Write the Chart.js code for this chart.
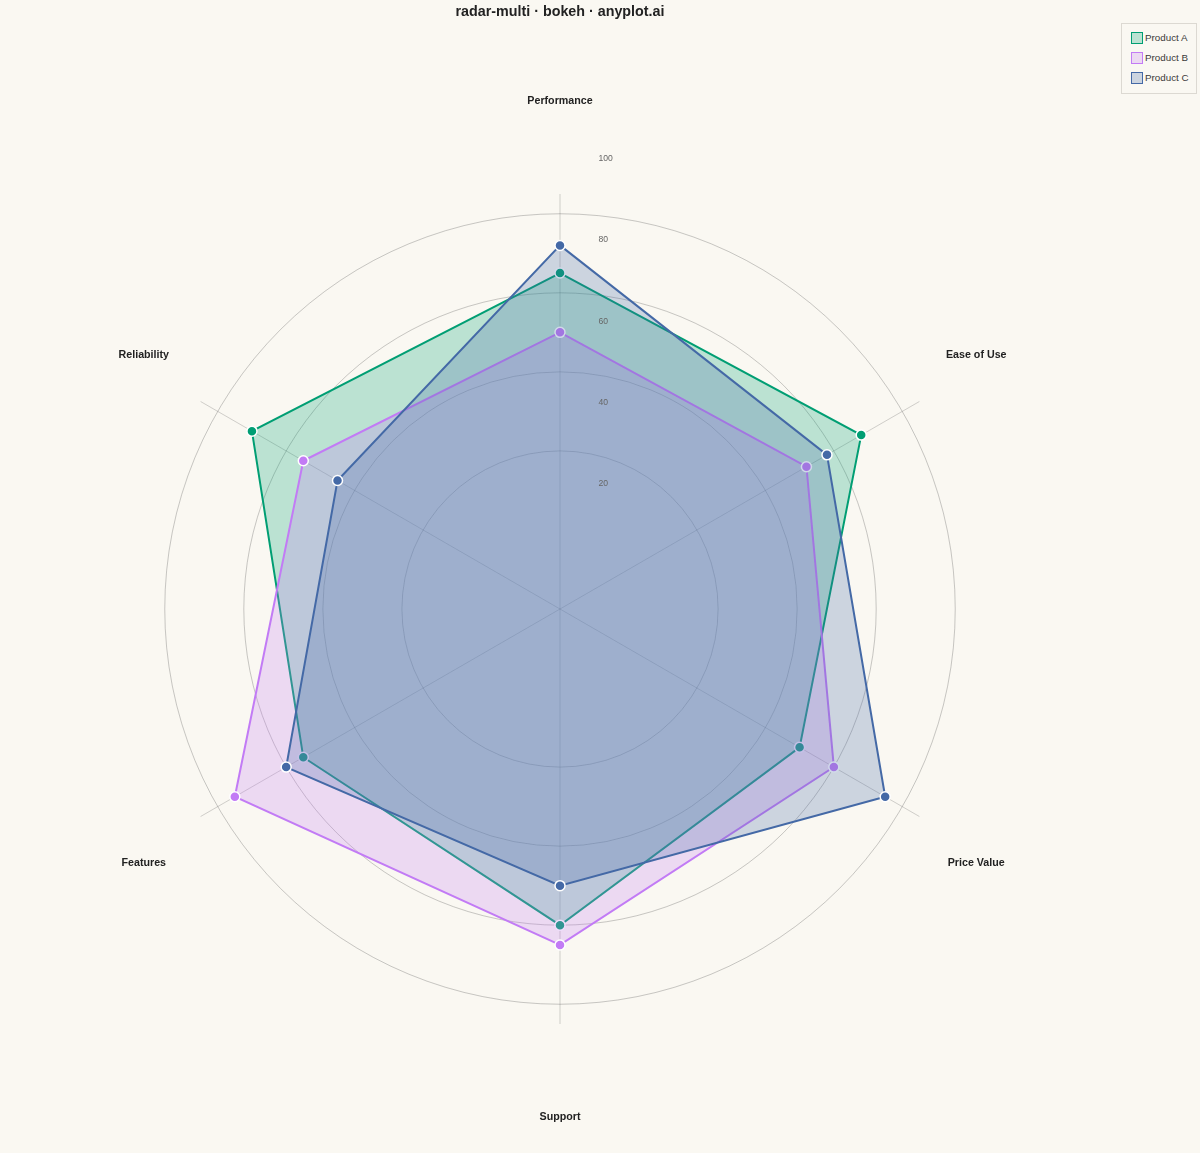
<!DOCTYPE html>
<html>
<head>
<meta charset="utf-8">
<script src="https://cdn.jsdelivr.net/npm/chart.js@4.4.1/dist/chart.umd.min.js"></script>
<style>
  html, body { margin: 0; padding: 0; background: #FAF8F2; }
  #wrap { position: relative; width: 1200px; height: 1153px; }
  #legend {
    position: absolute; left: 1121px; top: 23px; width: 74px; height: 69px;
    border: 1px solid #dcd9d2; background: #FAF8F2;
    font: 9.8px "Liberation Sans", Arial, sans-serif; color: #3a3a3a;
  }
  #legend .row { position: absolute; left: 9px; height: 12px; line-height: 12px; white-space: nowrap; }
  #legend .sw { display: inline-block; box-sizing: border-box; width: 12px; height: 12px; border: 1.5px solid; vertical-align: top; margin-right: 2px; }
</style>
</head>
<body>
<div id="wrap">
  <canvas id="radar"></canvas>
  <div id="legend"></div>
</div>
<script>
const categories = ['Performance', 'Ease of Use', 'Price Value', 'Support', 'Features', 'Reliability'];
const seriesNames = ['Product A', 'Product B', 'Product C'];
const productA = [85, 88, 70, 80, 75, 90];
const productB = [70, 72, 80, 85, 95, 75];
const productC = [92, 78, 95, 70, 80, 65];
const tickValues = [20, 40, 60, 80, 100];

const colors = ['#009E73', '#C27BF5', '#4469A6'];
const fills = ['rgba(0,158,115,0.25)', 'rgba(194,123,245,0.25)', 'rgba(68,105,166,0.25)'];
const values = [productA, productB, productC];

// legend (html, top right box)
const legend = document.getElementById('legend');
seriesNames.forEach((name, i) => {
  const row = document.createElement('div');
  row.className = 'row';
  row.style.top = (8 + i * 20) + 'px';
  row.innerHTML = '<span class="sw" style="border-color:' + colors[i] + ';background:' + fills[i] + '"></span>' + name;
  legend.appendChild(row);
});

// axis names + offset tick labels, positioned from the radial scale
const labelsPlugin = {
  id: 'radarLabels',
  afterDraw(chart) {
    const scale = chart.scales.r;
    const ctx = chart.ctx;
    const xc = scale.xCenter, yc = scale.yCenter;
    ctx.save();
    ctx.font = 'bold 10.7px "Liberation Sans", Arial, sans-serif';
    ctx.fillStyle = '#222';
    ctx.textAlign = 'center';
    ctx.textBaseline = 'middle';
    const rx = scale.getDistanceFromCenterForValue(121.6);
    const ry = scale.getDistanceFromCenterForValue(128.6);
    categories.forEach((c, i) => {
      const a = scale.getIndexAngle(i) - Math.PI / 2;
      ctx.fillText(c, xc + Math.cos(a) * rx, yc + Math.sin(a) * ry);
    });
    ctx.font = '8.6px "Liberation Sans", Arial, sans-serif';
    ctx.fillStyle = '#666';
    ctx.textAlign = 'left';
    tickValues.forEach(v => {
      const d = scale.getDistanceFromCenterForValue(v) * 1.028;
      ctx.fillText(String(v), xc + 38.5, yc - d - 44);
    });
    ctx.restore();
  }
};

new Chart(document.getElementById('radar'), {
  type: 'radar',
  data: {
    labels: categories,
    datasets: seriesNames.map((name, i) => ({
      label: name,
      data: values[i],
      order: 3 - i,
      borderColor: colors[i],
      backgroundColor: fills[i],
      borderWidth: 2,
      fill: true,
      pointRadius: 5,
      pointHoverRadius: 5,
      pointBackgroundColor: colors[i],
      pointBorderColor: '#ffffff',
      pointBorderWidth: 1.5
    }))
  },
  options: {
    responsive: true,
    maintainAspectRatio: false,
    animation: false,
    layout: { padding: { left: 145, right: 225, top: 0, bottom: 128 } },
    plugins: {
      legend: { display: false },
      tooltip: { enabled: false },
      title: {
        display: true,
        text: 'radar-multi · bokeh · anyplot.ai',
        color: '#222',
        font: { family: '"Liberation Sans", Arial, sans-serif', size: 14.3, weight: 'bold', lineHeight: 1.2 },
        padding: { top: 3, bottom: 174.8 }
      }
    },
    scales: {
      r: {
        min: 0,
        max: 105,
        beginAtZero: true,
        ticks: { display: false, stepSize: 20 },
        afterBuildTicks(scale) {
          scale.ticks = scale.ticks.filter(t => tickValues.includes(t.value));
        },
        pointLabels: { display: false },
        grid: { circular: true, color: 'rgba(80,80,80,0.3)', lineWidth: 1 },
        angleLines: { color: 'rgba(80,80,80,0.25)', lineWidth: 1 }
      }
    }
  },
  plugins: [labelsPlugin]
});
</script>
</body>
</html>
